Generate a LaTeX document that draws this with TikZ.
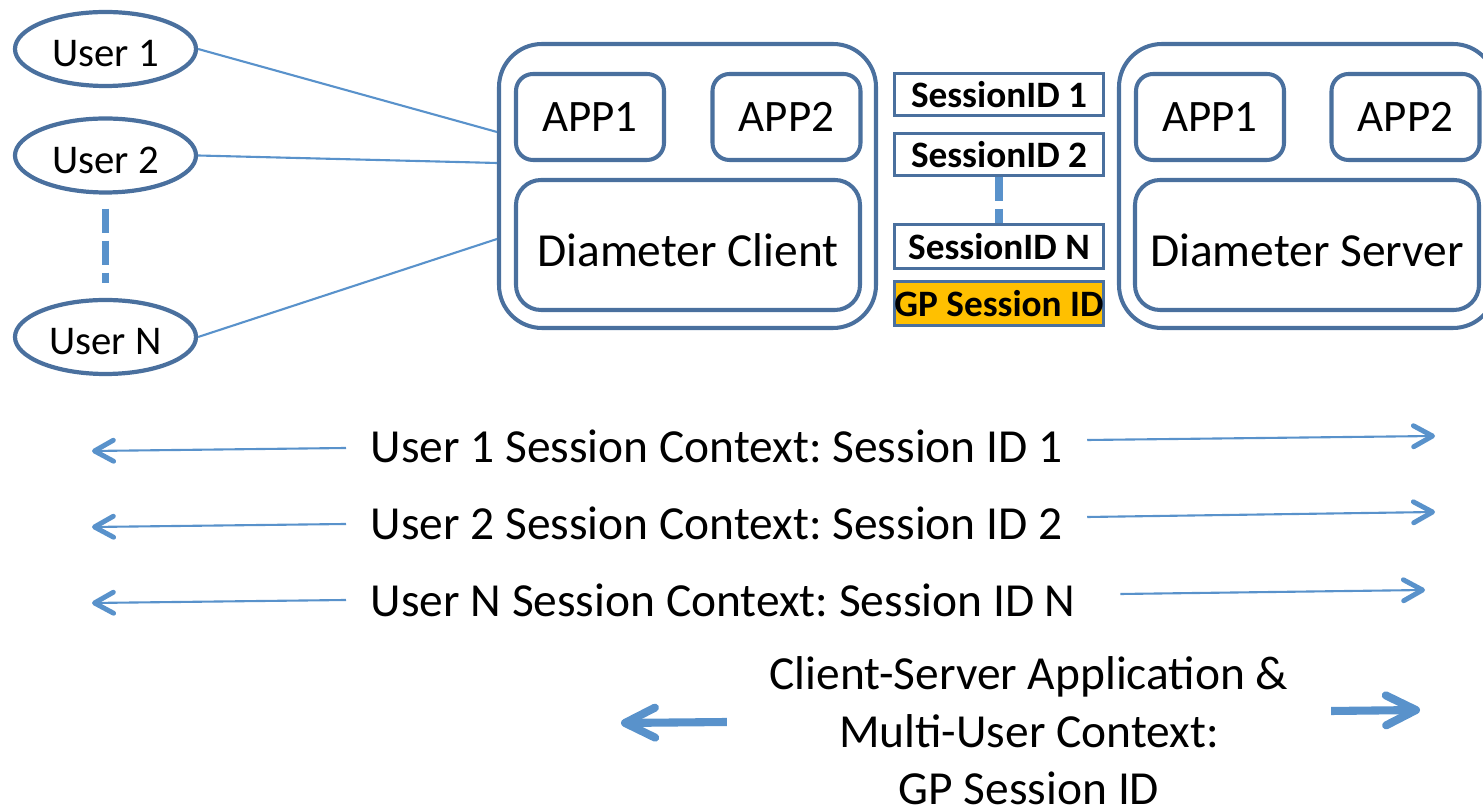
\documentclass[tikz,border=0pt]{standalone}
\usepackage{fontspec}
\setmainfont{Carlito}
\frenchspacing
\usepackage{tikz}
\usetikzlibrary{shapes.geometric,arrows.meta}
\definecolor{edge}{RGB}{74,112,158}
\definecolor{wire}{RGB}{89,146,203}
\definecolor{gold}{RGB}{255,192,0}

\begin{document}
\begin{tikzpicture}[
    user/.style={draw=edge, line width=1.2pt, ellipse, minimum width=1.81cm, minimum height=0.74cm,
        inner sep=0pt, font=\fontsize{11.6}{13}\selectfont, text height=0.36cm, text depth=0pt},
    host/.style={draw=edge, line width=1.15pt, rounded corners=0.43cm, minimum width=3.77cm, minimum height=2.84cm},
    app/.style={draw=edge, line width=1.15pt, rounded corners=0.17cm, minimum width=1.48cm, minimum height=0.86cm,
        font=\fontsize{12.8}{15}\selectfont},
    stack/.style={draw=edge, line width=1.15pt, rounded corners=0.25cm, minimum width=3.44cm, minimum height=1.30cm,
        font=\fontsize{13.5}{16}\selectfont, text height=0.43cm, text depth=0pt},
    sid/.style={draw=edge, line width=0.85pt, minimum width=2.09cm, minimum height=0.42cm, inner sep=0pt,
        font=\bfseries\fontsize{10.6}{12}\selectfont},
    link/.style={wire, line width=0.6pt},
    dots/.style={wire, line width=2.2pt, dash pattern=on 0.24cm off 0.08cm},
    ctx/.style={font=\fontsize{13.5}{16.4}\selectfont, inner xsep=0.24cm},
    rowarrow/.style={wire, line width=0.6pt, -{Straight Barb[length=0.19cm,width=0.21cm,line width=1.4pt,round]}},
    bigarrow/.style={wire, line width=2.3pt, -{Straight Barb[length=0.3cm,width=0.3cm,round]}}
]
    \useasboundingbox (0,0) rectangle (14.83,-8.09);

    % Users
    \node[user] (u1) at (1.055,-0.49) {User 1};
    \node[user] (u2) at (1.055,-1.555) {User 2};
    \node[user] (uN) at (1.055,-3.37) {User N};
    \draw[dots, shorten <=0.14cm, shorten >=0.15cm] (u2) -- (uN);

    % Client side
    \node[host] (client) at (6.875,-1.86) {};
    \node[app] (capp1) at (5.90,-1.17) {APP1};
    \node[app] (capp2) at (7.865,-1.17) {APP2};
    \node[stack] (cdia) at (6.88,-2.45) {Diameter Client};

    % Server side
    \node[host] (server) at (13.075,-1.86) {};
    \node[app] (sapp1) at (12.10,-1.17) {APP1};
    \node[app] (sapp2) at (14.055,-1.17) {APP2};
    \node[stack] (sdia) at (13.07,-2.45) {Diameter Server};

    % Session IDs
    \node[sid] (sid1) at (9.99,-0.945) {SessionID 1};
    \node[sid] (sid2) at (9.99,-1.545) {SessionID 2};
    \node[sid, minimum height=0.44cm] (sidN) at (9.99,-2.465) {SessionID N};
    \node[sid, fill=gold, minimum height=0.44cm] (gp) at (9.99,-3.035) {GP Session ID};
    \draw[dots, line width=2pt] (sid2.south) -- (sidN.north);

    % Users to client
    \coordinate (c1) at (4.97,-1.32);
    \coordinate (c2) at (4.97,-1.63);
    \coordinate (cN) at (4.97,-2.39);
    \draw[link] (u1.east) -- (c1);
    \draw[link] (u2.east) -- (c2);
    \draw[link] (uN.east) -- (cN);

    % Per user contexts
    \node[ctx, anchor=west] (ctx1) at (3.46,-4.46) {User 1 Session Context: Session ID 1};
    \node[ctx, anchor=west] (ctx2) at (3.46,-5.23) {User 2 Session Context: Session ID 2};
    \node[ctx, anchor=west] (ctx3) at (3.46,-6.00) {User N Session Context: Session ID N};
    \coordinate (l1) at (0.92,-4.51);
    \coordinate (r1) at (14.35,-4.36);
    \coordinate (l2) at (0.92,-5.27);
    \coordinate (r2) at (14.35,-5.12);
    \coordinate (l3) at (0.92,-6.03);
    \coordinate (r3) at (14.25,-5.90);
    \draw[rowarrow] ([yshift=-0.02cm]ctx1.west) -- (l1);
    \draw[rowarrow] ([yshift=0.06cm]ctx1.east) -- (r1);
    \draw[rowarrow] ([yshift=-0.01cm]ctx2.west) -- (l2);
    \draw[rowarrow] ([yshift=0.06cm]ctx2.east) -- (r2);
    \draw[rowarrow] (ctx3.west) -- (l3);
    \draw[rowarrow] ([xshift=0.2cm,yshift=0.06cm]ctx3.east) -- (r3);

    % Shared context
    \node[ctx, align=center, inner xsep=0.42cm, inner ysep=0pt] (ctxall) at (10.29,-7.31)
        {Client-Server Application \&\\Multi-User Context:\\GP Session ID};
    \coordinate (gl) at (6.21,-7.23);
    \coordinate (gr) at (14.20,-7.10);
    \draw[bigarrow] ([yshift=0.09cm]ctxall.west) -- (gl);
    \draw[bigarrow] ([yshift=0.20cm]ctxall.east) -- (gr);
\end{tikzpicture}
\end{document}
